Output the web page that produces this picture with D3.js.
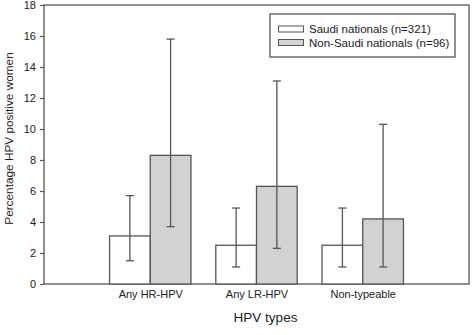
<!DOCTYPE html>
<html><head><meta charset="utf-8">
<script src="https://cdn.jsdelivr.net/npm/d3@7"></script>
<style>body{margin:0;background:#fff}svg{display:block}text{font-family:"Liberation Sans",Arial,sans-serif;fill:#222}</style>
</head><body>
<svg id="c" width="472" height="335"></svg>
<script>
const categories = ["Any HR-HPV","Any LR-HPV","Non-typeable"];
const seriesNames = ["Saudi nationals (n=321)","Non-Saudi nationals (n=96)"];
const saudi = [3.1, 2.5, 2.5];
const saudiLow = [1.5, 1.1, 1.1];
const saudiHigh = [5.7, 4.9, 4.9];
const nonSaudi = [8.3, 6.3, 4.2];
const nonSaudiLow = [3.7, 2.3, 1.1];
const nonSaudiHigh = [15.8, 13.1, 10.3];
const yTicks = [0,2,4,6,8,10,12,14,16,18];

const svg = d3.select("#c");
const L=44, R=469, T=5, B=284;
const stroke="#555";
const x = d3.scaleLinear().domain([0,4]).range([L,R]);
const y = d3.scaleLinear().domain([0,18]).range([B,T]);
const bw = x(0.383)-x(0);

// frame
svg.append("rect").attr("x",L).attr("y",T).attr("width",R-L).attr("height",B-T)
  .attr("fill","none").attr("stroke",stroke).attr("stroke-width",1.3);

// y axis
const ya = svg.append("g").attr("transform",`translate(${L},0)`)
  .call(d3.axisLeft(y).tickValues(yTicks).tickSize(4).tickPadding(4));
ya.select(".domain").remove();
ya.selectAll("line").attr("stroke",stroke).attr("stroke-width",1.2);
ya.selectAll("text").style("font-size","11px").style("font-family","Liberation Sans, Arial, sans-serif").attr("fill","#222");

// x labels
const xa = svg.append("g").attr("transform",`translate(0,${B})`)
  .call(d3.axisBottom(x).tickValues([1,2,3]).tickFormat((d,i)=>categories[i]).tickSize(0).tickPadding(6));
xa.select(".domain").remove();
xa.selectAll("text").style("font-size","11px").style("font-family","Liberation Sans, Arial, sans-serif").attr("fill","#222");

const series = [
  {vals:saudi, lo:saudiLow, hi:saudiHigh, fill:"#ffffff", off:-1},
  {vals:nonSaudi, lo:nonSaudiLow, hi:nonSaudiHigh, fill:"#d2d2d2", off:0}
];
series.forEach(s=>{
  categories.forEach((c,i)=>{
    const x0 = x(i+1)+s.off*bw;
    svg.append("rect").attr("x",x0).attr("y",y(s.vals[i])).attr("width",bw).attr("height",y(0)-y(s.vals[i]))
      .attr("fill",s.fill).attr("stroke",stroke).attr("stroke-width",1.3);
  });
});
series.forEach(s=>{
  categories.forEach((c,i)=>{
    const cx = x(i+1)+s.off*bw+bw/2;
    const g = svg.append("g").attr("stroke",stroke).attr("stroke-width",1.3);
    g.append("line").attr("x1",cx).attr("x2",cx).attr("y1",y(s.lo[i])).attr("y2",y(s.hi[i]));
    [s.lo[i],s.hi[i]].forEach(v=>g.append("line").attr("x1",cx-4).attr("x2",cx+4).attr("y1",y(v)).attr("y2",y(v)));
  });
});

// legend
const lg = svg.append("g");
lg.append("rect").attr("x",270).attr("y",14).attr("width",185).attr("height",43)
  .attr("fill","#fff").attr("stroke",stroke).attr("stroke-width",1.3);
seriesNames.forEach((n,i)=>{
  const yy = 29 + i*13.5;
  lg.append("rect").attr("x",278.5).attr("y",yy-3).attr("width",25).attr("height",6)
    .attr("fill",series[i].fill).attr("stroke",stroke).attr("stroke-width",1);
  lg.append("text").attr("x",309).attr("y",yy+4).style("font-size","11.5px").text(n);
});

// axis titles
svg.append("text").attr("transform",`translate(13,138.5) rotate(-90)`).attr("text-anchor","middle")
  .style("font-size","11.8px").text("Percentage HPV positive women");
svg.append("text").attr("x",265.5).attr("y",322).attr("text-anchor","middle").style("font-size","13.5px").text("HPV types");
</script>
</body></html>
